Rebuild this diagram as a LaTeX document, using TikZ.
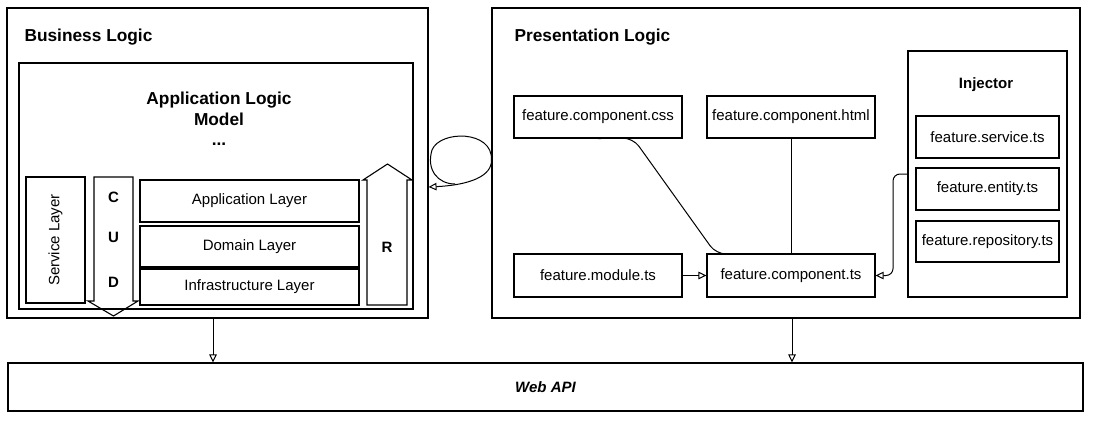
\documentclass[tikz,border=0pt]{standalone}
\usepackage{fontspec}
\setmainfont{Liberation Sans}
\usetikzlibrary{arrows.meta}
\begin{document}
\begin{tikzpicture}[x=1pt,y=-1pt,
  every path/.style={line width=1.1pt},
  box/.style={draw, line width=1.1pt, inner sep=0pt, font=\fontsize{15}{18}\selectfont},
  title/.style={inner sep=0pt, font=\fontsize{17.3}{20}\selectfont\bfseries},
  lbl/.style={inner sep=0pt, font=\fontsize{15}{18}\selectfont\bfseries},
  arr/.style={-{Triangle[open,length=8pt,width=7.5pt]}, line width=1pt},
  link/.style={line width=1pt}]
\useasboundingbox (0,0) rectangle (1094,425);

% Business logic
\node[box, minimum width=421pt, minimum height=310pt] (bus) at (217.5,163) {};
\node[title, anchor=west] (bustitle) at (24,37) {Business Logic};
\node[box, minimum width=394pt, minimum height=246pt] (app) at (216,186) {};
\node[title, anchor=base] (applogic) at (219,105) {Application Logic};
\node[title, anchor=base] (model) at (219,125) {Model};
\node[title, anchor=base] (dots) at (219,146) {...};

\node[box, minimum width=59pt, minimum height=126pt] (svc) at (55.5,240) {};
\node[inner sep=0pt, rotate=90, font=\fontsize{15}{18}\selectfont] (svct) at (55.5,240) {Service Layer};

\node[box, minimum width=219pt, minimum height=42pt] (applayer) at (249.5,201) {Application Layer};
\node[box, minimum width=219pt, minimum height=41pt] (domlayer) at (249.5,246.5) {Domain Layer};
\node[box, minimum width=219pt, minimum height=36pt] (inflayer) at (249.5,287) {Infrastructure Layer};

% CUD arrow
\draw[line width=1.1pt, line join=miter] (94,177) -- (133,177) -- (133,301) -- (138,301) -- (113.5,316) -- (88,301) -- (94,301) -- cycle;
\node[lbl] (c) at (113.5,197) {C};
\node[lbl] (u) at (113.5,237) {U};
\node[lbl] (d) at (113.5,282) {D};

% R arrow
\draw[line width=1.1pt, line join=miter] (367,305) -- (407,305) -- (407,180) -- (412,180) -- (387.5,164) -- (363,180) -- (367,180) -- cycle;
\node[lbl] (r) at (387,247) {R};

% Presentation logic
\node[box, minimum width=588pt, minimum height=310pt] (pres) at (786,163) {};
\node[title, anchor=west] (prestitle) at (514,37) {Presentation Logic};
\node[box, minimum width=168pt, minimum height=42pt] (css) at (598,117) {feature.component.css};
\node[box, minimum width=168pt, minimum height=42pt] (html) at (791,117) {feature.component.html};
\node[box, minimum width=168pt, minimum height=43pt] (mod) at (598,275.5) {feature.module.ts};
\node[box, minimum width=168pt, minimum height=43pt] (comp) at (791,275.5) {feature.component.ts};

\node[box, minimum width=159pt, minimum height=246pt] (inj) at (987.5,174) {};
\node[lbl] (injt) at (986,85) {Injector};
\node[box, minimum width=143pt, minimum height=42pt] (svcts) at (987.5,137) {feature.service.ts};
\node[box, minimum width=143pt, minimum height=42pt] (ent) at (987.5,189) {feature.entity.ts};
\node[box, minimum width=143pt, minimum height=41pt] (repo) at (987.5,241.5) {feature.repository.ts};

% Web API
\node[box, minimum width=1075pt, minimum height=48pt, font=\fontsize{15}{18}\selectfont\bfseries\itshape] (web) at (545.5,387) {Web API};

% connectors
\draw[arr] (mod.east) -- (comp.west);
\draw[link, rounded corners=10pt] (css.south) -- (633,138) -- (716,254) -- (757,254);
\draw[link] (html.south) -- (comp.north);
\draw[arr, rounded corners=7pt] (inj.west) -- (893,174) -- (893,275.5) -- (comp.east);
\draw[arr] (bus.south -| 213,0) -- (web.north -| 213,0);
\draw[arr] (pres.south -| 792,0) -- (web.north -| 792,0);

% loop from presentation to application
\coordinate (ls) at (pres.west |- 0,160);
\draw[arr] (ls) .. controls (492,176) and (470,185) .. (bus.east |- 0,187);
\draw[link] (ls) .. controls (493,130) and (440,130) .. (432,150) .. controls (426,170) and (438,184) .. (455,184);
\end{tikzpicture}
\end{document}
